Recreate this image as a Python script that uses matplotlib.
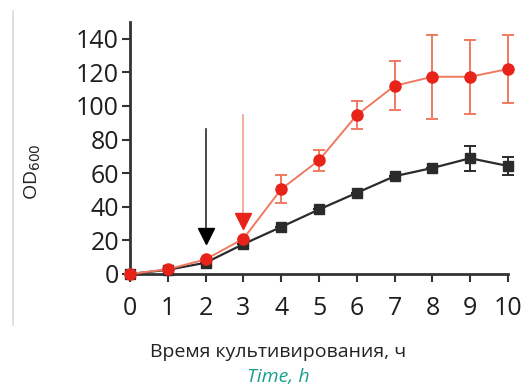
import matplotlib
matplotlib.use("Agg")
import matplotlib.pyplot as plt
from matplotlib.lines import Line2D

hours = [0, 1, 2, 3, 4, 5, 6, 7, 8, 9, 10]
red_vals = [0, 2.8, 8.7, 21, 50.5, 67.7, 94.6, 112, 117.4, 117.4, 122]
red_err = [0, 0, 0, 0, 8.5, 6.4, 8.3, 14.6, 25, 22, 20.5]
black_vals = [0, 2.5, 6.7, 17.8, 28, 38.4, 48.3, 58.2, 63.1, 68.9, 64.3]
black_err = [0, 0, 0, 0, 0, 0, 0, 0, 0, 7.3, 5.6]
yticks = [0, 20, 40, 60, 80, 100, 120, 140]
black_arrow = (2, 86.5, 17)
red_arrow = (3, 94.5, 26)

plt.rcParams['font.family'] = ['Open Sans', 'DejaVu Sans']

fig = plt.figure(figsize=(5.23, 3.87), dpi=100)
ax = fig.add_axes([0.2486, 0.292, 0.9713 - 0.2486, 0.9432 - 0.292])

dark = '#2b2b2b'
red = '#e8231a'
salmon = '#f07a60'

ax.errorbar(hours, black_vals, yerr=black_err, color=dark, marker='s', ms=7.5,
            lw=1.6, elinewidth=1.4, capsize=4, capthick=1.4, clip_on=False, zorder=3)
ax.errorbar(hours, red_vals, yerr=red_err, color=salmon, marker='o', ms=8,
            mfc=red, mec=red, lw=1.4, elinewidth=1.4, capsize=4, capthick=1.4,
            clip_on=False, zorder=4)

# arrows: shaft + triangular head
for (xa, ytop, ytip), col, hcol in [(black_arrow, dark, 'black'), (red_arrow, '#f4a08c', red)]:
    ax.plot([xa, xa], [ytop, ytip + 6], color=col, lw=1.2, zorder=5)
    ax.plot([xa], [ytip + 5.5], marker='v', ms=12, color=hcol, mec=hcol, zorder=6)

ax.set_xlim(0, 10)
ax.set_ylim(0, 150)
ax.set_xticks(hours)
ax.set_yticks(yticks)
for s in ['top', 'right']:
    ax.spines[s].set_visible(False)
for s in ['left', 'bottom']:
    ax.spines[s].set_linewidth(2)
    ax.spines[s].set_color('#333333')
ax.tick_params(axis='both', length=6, width=1.5, color='#333333', labelsize=18,
               labelcolor='#1e1e1e', pad=2)
ax.tick_params(axis='x', pad=10)

ax.set_ylabel('OD$_{600}$', fontsize=14, color='#222222')
ax.yaxis.set_label_coords(-0.23, 0.405)

fig.text(278 / 523, (387 - 352) / 387, 'Время культивирования, ч', ha='center', va='center',
         fontsize=14, color='#222222')
fig.text(278 / 523, (387 - 377) / 387, 'Time, h', ha='center', va='center',
         fontsize=14, color='#17a08e', style='italic')

fig.add_artist(Line2D([13 / 523, 13 / 523], [1 - 11 / 387, 1 - 325 / 387],
                      color='#d8d8d8', lw=1.2, transform=fig.transFigure))

fig.savefig('out.png', dpi=100)
